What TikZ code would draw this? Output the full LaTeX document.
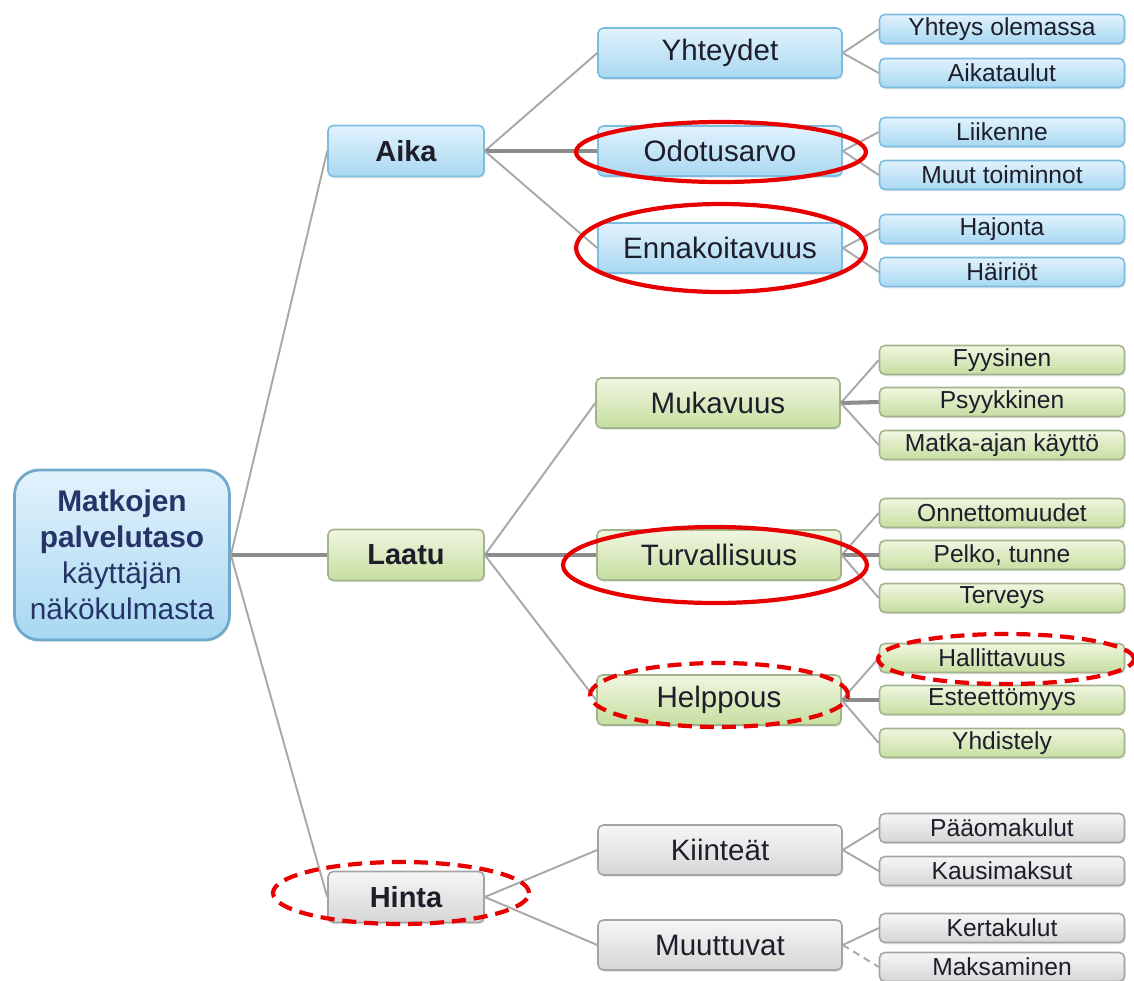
\documentclass[tikz,border=0pt]{standalone}
\usepackage{fontspec}
\setmainfont{Liberation Sans}
\usetikzlibrary{shadows}
\definecolor{txt}{HTML}{1E1E2A}
\definecolor{roottxt}{HTML}{263468}
\definecolor{bTop}{HTML}{E2F2FC}
\definecolor{bBot}{HTML}{A8D8F2}
\definecolor{bDraw}{HTML}{7CBCE0}
\definecolor{gTop}{HTML}{F0F6E0}
\definecolor{gBot}{HTML}{C6DEA0}
\definecolor{gDraw}{HTML}{A3B48C}
\definecolor{hTop}{HTML}{F6F6F6}
\definecolor{hBot}{HTML}{D6D6D6}
\definecolor{hDraw}{HTML}{A4A4A4}
\definecolor{lineC}{HTML}{A8A8A8}
\definecolor{lineD}{HTML}{8C8C8C}
\definecolor{ringC}{HTML}{E80000}
\begin{document}
\begin{tikzpicture}[x=0.02cm,y=-0.02cm,
  box/.style={rounded corners=3pt, draw, line width=0.9pt, inner sep=0pt, align=center, text=txt,
    drop shadow={opacity=0.18, shadow xshift=0.6pt, shadow yshift=-1pt}},
  bluebox/.style={box, top color=bTop, bottom color=bBot, draw=bDraw},
  greenbox/.style={box, top color=gTop, bottom color=gBot, draw=gDraw},
  graybox/.style={box, top color=hTop, bottom color=hBot, draw=hDraw},
  rootbox/.style={box, rounded corners=14pt, line width=1.6pt, top color=bTop, bottom color=bBot, draw=bDraw!90!black, text=roottxt, minimum width=4.3cm, minimum height=3.4cm, font=\fontsize{17}{20.4}\selectfont},
  lvone/.style={minimum width=3.12cm, minimum height=1.02cm, font=\fontsize{16.5}{19}\selectfont\bfseries},
  lvtwo/.style={minimum width=4.88cm, minimum height=1.0cm, font=\fontsize{16.8}{19}\selectfont},
  lvthree/.style={minimum width=4.9cm, minimum height=0.58cm, font=\fontsize{14}{16}\selectfont},
  thin/.style={draw=lineC, line width=1.1pt},
  thick/.style={draw=lineD, line width=2.3pt},
  dashedlink/.style={draw=lineC, line width=1.1pt, dash pattern=on 4pt off 3pt},
  ring/.style={draw=ringC, line width=2.4pt},
  dring/.style={draw=ringC, line width=2.4pt, dash pattern=on 8pt off 4.5pt}
]
\useasboundingbox (0,0) rectangle (1134,981);
\clip (0,0) rectangle (1134,981);

% root
\node[rootbox] (root) at (122,555) {\textbf{Matkojen}\\\textbf{palvelutaso}\\käyttäjän\\näkökulmasta};

% level 1
\node[bluebox, lvone] (aika) at (406,151) {Aika};
\node[greenbox, lvone] (laatu) at (406,555) {Laatu};
\node[graybox, lvone] (hinta) at (406,897) {Hinta};

% level 2
\node[bluebox, lvtwo] (yht) at (720,53) {Yhteydet};
\node[bluebox, lvtwo] (odo) at (720,151) {Odotusarvo};
\node[bluebox, lvtwo] (enn) at (720,248) {Ennakoitavuus};
\node[greenbox, lvtwo] (muk) at (718,403) {Mukavuus};
\node[greenbox, lvtwo] (tur) at (719,555) {Turvallisuus};
\node[greenbox, lvtwo] (hel) at (719,700) {Helppous};
\node[graybox, lvtwo] (kii) at (720,850) {Kiinteät};
\node[graybox, lvtwo] (muu) at (720,945) {Muuttuvat};

% level 3
\node[bluebox, lvthree] (c1) at (1002,29) {Yhteys olemassa};
\node[bluebox, lvthree] (c2) at (1002,73) {Aikataulut};
\node[bluebox, lvthree] (c3) at (1002,132) {Liikenne};
\node[bluebox, lvthree] (c4) at (1002,175) {Muut toiminnot};
\node[bluebox, lvthree] (c5) at (1002,229) {Hajonta};
\node[bluebox, lvthree] (c6) at (1002,272) {Häiriöt};
\node[greenbox, lvthree] (c7) at (1002,360) {Fyysinen};
\node[greenbox, lvthree] (c8) at (1002,402) {Psyykkinen};
\node[greenbox, lvthree] (c9) at (1002,445) {Matka-ajan käyttö};
\node[greenbox, lvthree] (c10) at (1002,513) {Onnettomuudet};
\node[greenbox, lvthree] (c11) at (1002,555) {Pelko, tunne};
\node[greenbox, lvthree] (c12) at (1002,598) {Terveys};
\node[greenbox, lvthree] (c13) at (1002,658) {Hallittavuus};
\node[greenbox, lvthree] (c14) at (1002,700) {Esteettömyys};
\node[greenbox, lvthree] (c15) at (1002,743) {Yhdistely};
\node[graybox, lvthree] (c16) at (1002,828) {Pääomakulut};
\node[graybox, lvthree] (c17) at (1002,871) {Kausimaksut};
\node[graybox, lvthree] (c18) at (1002,928) {Kertakulut};
\node[graybox, lvthree] (c19) at (1002,967) {Maksaminen};

% connectors
\draw[thin] (root.east) -- (aika.west);
\draw[thick] (root.east) -- (laatu.west);
\draw[thin] (root.east) -- (hinta.west);

\draw[thin] (aika.east) -- (yht.west);
\draw[thick] (aika.east) -- (odo.west);
\draw[thin] (aika.east) -- (enn.west);
\draw[thin] (laatu.east) -- (muk.west);
\draw[thick] (laatu.east) -- (tur.west);
\draw[thin] (laatu.east) -- (hel.west);
\draw[thin] (hinta.east) -- (kii.west);
\draw[thin] (hinta.east) -- (muu.west);

\draw[thin] (yht.east) -- (c1.west);
\draw[thin] (yht.east) -- (c2.west);
\draw[thin] (odo.east) -- (c3.west);
\draw[thin] (odo.east) -- (c4.west);
\draw[thin] (enn.east) -- (c5.west);
\draw[thin] (enn.east) -- (c6.west);
\draw[thin] (muk.east) -- (c7.west);
\draw[thick] (muk.east) -- (c8.west);
\draw[thin] (muk.east) -- (c9.west);
\draw[thin] (tur.east) -- (c10.west);
\draw[thick] (tur.east) -- (c11.west);
\draw[thin] (tur.east) -- (c12.west);
\draw[thin] (hel.east) -- (c13.west);
\draw[thick] (hel.east) -- (c14.west);
\draw[thin] (hel.east) -- (c15.west);
\draw[thin] (kii.east) -- (c16.west);
\draw[thin] (kii.east) -- (c17.west);
\draw[thin] (muu.east) -- (c18.west);
\draw[dashedlink] (muu.east) -- (c19.west);

% red rings
\draw[ring] (721,152) ellipse [x radius=2.9cm, y radius=0.6cm];
\draw[ring] (721,248) ellipse [x radius=2.9cm, y radius=0.88cm];
\draw[ring] (715,565) ellipse [x radius=3.04cm, y radius=0.76cm];
\draw[dring] (719,695) ellipse [x radius=2.58cm, y radius=0.64cm];
\draw[dring] (1006,659) ellipse [x radius=2.56cm, y radius=0.5cm];
\draw[dring] (401,893) ellipse [x radius=2.56cm, y radius=0.62cm];
\end{tikzpicture}
\end{document}
